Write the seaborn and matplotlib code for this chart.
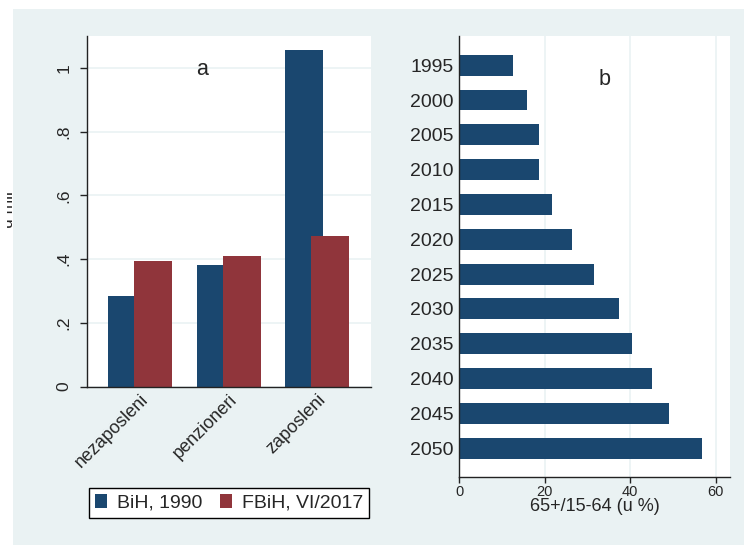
import matplotlib
matplotlib.use("Agg")
import matplotlib.pyplot as plt
import seaborn as sns
import pandas as pd
from matplotlib.patches import Rectangle, Patch
from matplotlib.transforms import Bbox

# ---- data ----
categories = ["nezaposleni", "penzioneri", "zaposleni"]
series_names = ["BiH, 1990", "FBiH, VI/2017"]
bih_1990 = [0.284, 0.381, 1.057]
fbih_2017 = [0.393, 0.411, 0.471]

years = ["1995", "2000", "2005", "2010", "2015", "2020", "2025", "2030",
         "2035", "2040", "2045", "2050"]
ratio = [12.5, 15.9, 18.6, 18.8, 21.8, 26.5, 31.5, 37.4, 40.5, 45.0, 49.1, 56.8]

yticks_a = [0, 0.2, 0.4, 0.6, 0.8, 1.0]
yticklabels_a = ["0", ".2", ".4", ".6", ".8", "1"]
xticks_b = [0, 20, 40, 60]

BLUE = "#1A476F"
RED = "#90353B"
BG = "#EAF2F3"

sns.set_theme(style="white")
plt.rcParams["font.family"] = ["Liberation Sans", "DejaVu Sans"]

W, H = 744, 545
fig = plt.figure(figsize=(W / 100, H / 100), dpi=100)
fig.patch.set_facecolor("white")
fig.patches.append(Rectangle((13 / W, 0), 1 - 13 / W, (H - 9) / H,
                             transform=fig.transFigure, facecolor=BG,
                             edgecolor="none", zorder=-10))

def box(x0, y0, x1, y1):
    return [x0 / W, 1 - y1 / H, (x1 - x0) / W, (y1 - y0) / H]

# ---- panel a ----
axa = fig.add_axes(box(87, 36, 371, 386.5))
df_a = pd.DataFrame({
    "kategorija": categories * 2,
    "serija": [series_names[0]] * 3 + [series_names[1]] * 3,
    "vrijednost": bih_1990 + fbih_2017,
})
sns.barplot(data=df_a, x="kategorija", y="vrijednost", hue="serija",
            hue_order=series_names, order=categories,
            palette=[BLUE, RED], width=0.588, ax=axa, errorbar=None,
            saturation=1, linewidth=0)
bw = 0.43
for p in axa.patches:
    cx = p.get_x() + p.get_width() / 2
    p.set_x(cx - bw / 2)
    p.set_width(bw)
axa.set_xlim(-0.6, 2.61)
axa.set_ylim(0, 1.100)
axa.set_yticks(yticks_a)
axa.set_yticklabels(yticklabels_a, rotation=90, va="center", fontsize=12.5)
axa.tick_params(axis="y", length=5, width=1, color="#222222", pad=6, left=True)
axa.tick_params(axis="x", length=0, pad=3)
axa.set_xticks(range(len(categories)))
axa.set_xticklabels(categories, rotation=45, ha="right",
                    rotation_mode="anchor", fontsize=13)
axa.set_xlabel("")
axa.set_ylabel("")
axa.yaxis.grid(True, color=BG, lw=1.2)
axa.set_axisbelow(True)
for s in ["top", "right"]:
    axa.spines[s].set_visible(False)
for s in ["left", "bottom"]:
    axa.spines[s].set_color("#222222")
    axa.spines[s].set_linewidth(1)
axa.text(202 / W, 1 - 69.5 / H, "a", transform=fig.transFigure,
         ha="center", va="center", fontsize=15.5)
leg = axa.get_legend()
if leg is not None:
    leg.remove()
handles = [Patch(facecolor=BLUE, edgecolor="none"),
           Patch(facecolor=RED, edgecolor="none")]
lg = fig.legend(handles, series_names, loc="center",
                bbox_to_anchor=(229 / W, 1 - 503 / H), ncol=2,
                fontsize=14, frameon=True, fancybox=False,
                edgecolor="black", facecolor="white", framealpha=1,
                handlelength=0.62, handleheight=0.75, handletextpad=0.5,
                columnspacing=0.9, borderpad=0.3, borderaxespad=0)
lg.get_frame().set_linewidth(1)

yl = fig.text(16 / W, 1 - 210 / H, "u mil", rotation=90, ha="right",
              va="center", fontsize=12.5)
yl.set_clip_box(Bbox.from_extents(7, 0, W, H))
yl.set_clip_on(True)

# ---- panel b ----
axb = fig.add_axes(box(459, 36, 730, 477))
df_b = pd.DataFrame({"godina": years, "omjer": ratio})
sns.barplot(data=df_b, x="omjer", y="godina", order=years, orient="h",
            color=BLUE, width=0.6, ax=axb, errorbar=None, saturation=1,
            linewidth=0)
axb.set_xlim(0, 63.3)
axb.set_ylim(11.83, -0.84)
axb.set_xticks(xticks_b)
axb.tick_params(axis="x", length=4, width=1, color="#222222", pad=2,
                labelsize=10.5, bottom=True)
axb.tick_params(axis="y", length=0, pad=4, labelsize=14)
axb.set_ylabel("")
axb.set_xlabel("65+/15-64 (u %)", fontsize=13, labelpad=-1)
axb.xaxis.grid(True, color=BG, lw=1.2)
axb.set_axisbelow(True)
for s in ["top", "right"]:
    axb.spines[s].set_visible(False)
for s in ["left", "bottom"]:
    axb.spines[s].set_color("#222222")
    axb.spines[s].set_linewidth(1)
axb.text(605 / W, 1 - 79 / H, "b", transform=fig.transFigure,
         ha="center", va="center", fontsize=15.5)

fig.savefig("out.png", dpi=100, facecolor=fig.get_facecolor())
